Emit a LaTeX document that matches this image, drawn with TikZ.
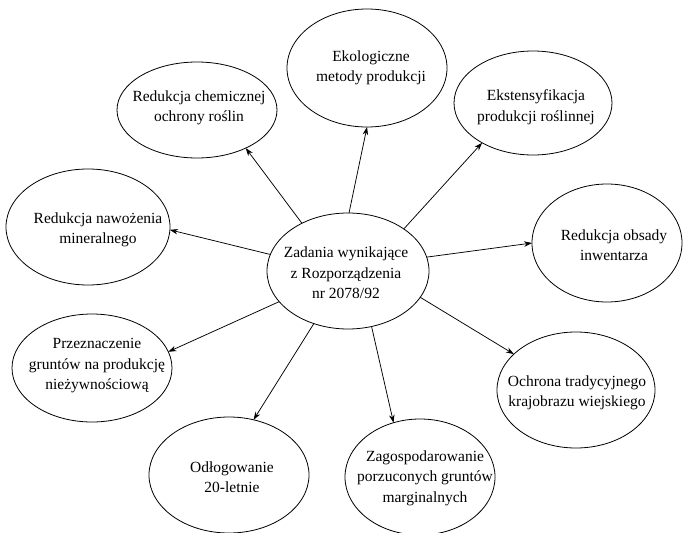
\documentclass[tikz,border=0pt]{standalone}
\usepackage{fontspec}
\setmainfont{Liberation Serif}
\usetikzlibrary{shapes.geometric,arrows.meta}
\tikzset{
  bub/.style={draw, ellipse, inner sep=0pt, outer sep=0pt, line width=0.8pt},
  lbl/.style={align=center, inner sep=0pt, font=\fontsize{15.5}{20.5}\selectfont},
  arr/.style={-{Stealth[length=8pt,width=5.5pt]}, line width=0.75pt},
}
\begin{document}
\begin{tikzpicture}[x=1pt,y=-1pt]
\useasboundingbox (0,0) rectangle (683,533);
\fill[white] (0,0) rectangle (683,533);
% ellipses
\node[bub, minimum width=162pt, minimum height=116pt] (c)    at (348,271) {};
\node[bub, minimum width=160pt, minimum height=118pt] (eko)  at (367,68)  {};
\node[bub, minimum width=160pt, minimum height=96pt]  (chem) at (197,110) {};
\node[bub, minimum width=158pt, minimum height=104pt] (ekst) at (533,103) {};
\node[bub, minimum width=164pt, minimum height=116pt] (naw)  at (88,227)  {};
\node[bub, minimum width=150pt, minimum height=118pt] (obs)  at (607,243) {};
\node[bub, minimum width=160pt, minimum height=108pt] (prz)  at (92,368)  {};
\node[bub, minimum width=160pt, minimum height=116pt] (odl)  at (229,475) {};
\node[bub, minimum width=150pt, minimum height=116pt] (zag)  at (420,477) {};
\node[bub, minimum width=158pt, minimum height=116pt] (och)  at (576,390) {};
% texts
\node[lbl] (c-t)    at (346,273) {Zadania wynikające\\z Rozporządzenia\\nr 2078/92};
\node[lbl] (eko-t)  at (371,68)  {Ekologiczne\\metody produkcji};
\node[lbl] (chem-t) at (199,108) {Redukcja chemicznej\\ochrony roślin};
\node[lbl] (ekst-t) at (536,107) {Ekstensyfikacja\\produkcji roślinnej};
\node[lbl] (naw-t)  at (98,230)  {Redukcja nawożenia\\mineralnego};
\node[lbl] (obs-t)  at (614,245) {Redukcja obsady\\inwentarza};
\node[lbl] (prz-t)  at (97,366)  {Przeznaczenie\\gruntów na produkcję\\nieżywnościową};
\node[lbl] (odl-t)  at (232,477) {Odłogowanie\\20-letnie};
\node[lbl] (zag-t)  at (425,478) {Zagospodarowanie\\porzuconych gruntów\\marginalnych};
\node[lbl] (och-t)  at (577,393) {Ochrona tradycyjnego\\krajobrazu wiejskiego};
% connectors
\draw[arr] (c.134.5) -- (chem.322);
\draw[arr] (c.89)    -- (eko.270);
\draw[arr] (c.37.7)  -- (ekst.218);
\draw[arr] (c.168.8) -- (naw.358.6);
\draw[arr] (c.10)    -- (obs.180);
\draw[arr] (c.204.3) -- (prz.12.7);
\draw[arr] (c.340)   -- (och.150.7);
\draw[arr] (c.237.3) -- (odl.66.6);
\draw[arr] (c.293.2) -- (zag.116.2);
\end{tikzpicture}
\end{document}
